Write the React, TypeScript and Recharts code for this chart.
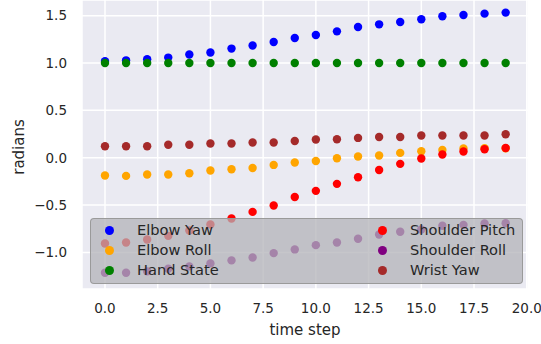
import React from 'react';
import { ScatterChart, Scatter, XAxis, YAxis, CartesianGrid, Legend, Label } from 'recharts';

const timeSteps = [0, 1, 2, 3, 4, 5, 6, 7, 8, 9, 10, 11, 12, 13, 14, 15, 16, 17, 18, 19];

const elbowYaw = [1.02, 1.028, 1.039, 1.057, 1.089, 1.11, 1.152, 1.184, 1.222, 1.264, 1.295, 1.334, 1.38, 1.408, 1.432, 1.461, 1.493, 1.506, 1.521, 1.532];
const elbowRoll = [-0.188, -0.192, -0.177, -0.177, -0.164, -0.135, -0.121, -0.108, -0.076, -0.051, -0.034, -0.005, 0.013, 0.023, 0.051, 0.069, 0.082, 0.097, 0.1, 0.1];
const handState = [1, 1, 1, 1, 1, 1, 1, 1, 1, 1, 1, 1, 1, 1, 1, 1, 1, 1, 1, 1];
const shoulderPitch = [-0.905, -0.895, -0.863, -0.825, -0.768, -0.705, -0.642, -0.572, -0.504, -0.415, -0.35, -0.276, -0.206, -0.129, -0.065, -0.009, 0.034, 0.065, 0.09, 0.103];
const shoulderRoll = [-1.215, -1.215, -1.2, -1.172, -1.147, -1.116, -1.084, -1.053, -1.007, -0.968, -0.923, -0.895, -0.856, -0.81, -0.782, -0.758, -0.719, -0.709, -0.694, -0.691];
const wristYaw = [0.121, 0.121, 0.121, 0.137, 0.137, 0.15, 0.15, 0.16, 0.16, 0.177, 0.192, 0.195, 0.209, 0.219, 0.219, 0.234, 0.234, 0.234, 0.234, 0.248];

const seriesNames = ['Elbow Yaw', 'Elbow Roll', 'Hand State', 'Shoulder Pitch', 'Shoulder Roll', 'Wrist Yaw'];
const seriesValues = [elbowYaw, elbowRoll, handState, shoulderPitch, shoulderRoll, wristYaw];
const seriesColors = ['#0000ff', '#ffa500', '#008000', '#ff0000', '#800080', '#a52a2a'];

const xTicks = [0, 2.5, 5, 7.5, 10, 12.5, 15, 17.5, 20];
const yTicks = [-1, -0.5, 0, 0.5, 1, 1.5];

const FONT = 'DejaVu Sans, sans-serif';
const TEXT = '#262626';

const fmtY = (v: number) => (v < 0 ? '\u2212' + Math.abs(v).toFixed(1) : v.toFixed(1));
const fmtX = (v: number) => v.toFixed(1);

const makeDot = (color: string) => (props: any) => (
  <circle cx={props.cx} cy={props.cy} r={4.2} fill={color} />
);

const LegendBox = () => {
  const cols = [seriesNames.slice(0, 3), seriesNames.slice(3, 6)];
  const colX = [[19, 46], [292, 319]];
  const rowY = [11.5, 31.5, 52];
  return (
    <div
      style={{
        position: 'relative',
        width: 433,
        height: 66,
        boxSizing: 'border-box',
        background: 'rgba(178,178,183,0.74)',
        border: '1px solid rgba(150,150,150,0.9)',
        borderRadius: 4,
        fontFamily: FONT,
        fontSize: 14.6,
        color: TEXT,
      }}
    >
      {cols.map((col, ci) =>
        col.map((name, ri) => {
          const idx = ci * 3 + ri;
          return (
            <React.Fragment key={name}>
              <div
                style={{
                  position: 'absolute',
                  left: colX[ci][0] - 5,
                  top: rowY[ri] - 5,
                  width: 9,
                  height: 9,
                  borderRadius: '50%',
                  background: seriesColors[idx],
                }}
              />
              <div
                style={{
                  position: 'absolute',
                  left: colX[ci][1],
                  top: rowY[ri] - 10,
                  lineHeight: '18px',
                  whiteSpace: 'nowrap',
                }}
              >
                {name}
              </div>
            </React.Fragment>
          );
        })
      )}
    </div>
  );
};

export default function App() {
  return (
    <div style={{ position: 'absolute', left: 0, top: 0, width: 541, height: 344, background: '#fff' }}>
      <ScatterChart
        width={541}
        height={344}
        margin={{ top: 0, right: 13, bottom: 0, left: 0 }}
        style={{ fontFamily: FONT }}
      >
        <CartesianGrid fill="#eaeaf2" stroke="#ffffff" strokeWidth={1.5} />
        <XAxis
          type="number"
          dataKey="x"
          domain={[-1.09, 20.06]}
          ticks={xTicks}
          tickFormatter={fmtX}
          allowDataOverflow
          axisLine={false}
          tickLine={false}
          tickSize={0}
          tickMargin={14}
          height={55}
          tick={{ fill: TEXT, fontSize: 13.5, fontFamily: FONT }}
        >
          <Label
            content={(p: any) => {
              const vb = p.viewBox || { x: 82, y: 289, width: 446 };
              return (
                <text x={vb.x + vb.width / 2} y={vb.y + 46} textAnchor="middle" fill={TEXT} fontSize={15} fontFamily={FONT}>
                  time step
                </text>
              );
            }}
          />
        </XAxis>
        <YAxis
          type="number"
          dataKey="y"
          domain={[-1.386, 1.665]}
          ticks={yTicks}
          tickFormatter={fmtY}
          allowDataOverflow
          axisLine={false}
          tickLine={false}
          tickSize={0}
          tickMargin={15}
          width={82}
          tick={{ fill: TEXT, fontSize: 13.5, fontFamily: FONT }}
        >
          <Label
            content={() => (
              <text x={23.5} y={147} transform="rotate(-90, 23.5, 147)" textAnchor="middle" fill={TEXT} fontSize={15} fontFamily={FONT}>
                radians
              </text>
            )}
          />
        </YAxis>
        {seriesNames.map((name, si) => (
          <Scatter
            key={name}
            name={name}
            data={timeSteps.map((x, i) => ({ x, y: seriesValues[si][i] }))}
            fill={seriesColors[si]}
            shape={makeDot(seriesColors[si])}
            isAnimationActive={false}
          />
        ))}
        <Legend
          verticalAlign="middle"
          align="center"
          layout="horizontal"
          wrapperStyle={{ position: 'absolute', left: 90, top: 218, width: 433, height: 66 }}
          content={() => <LegendBox />}
        />
      </ScatterChart>
    </div>
  );
}
